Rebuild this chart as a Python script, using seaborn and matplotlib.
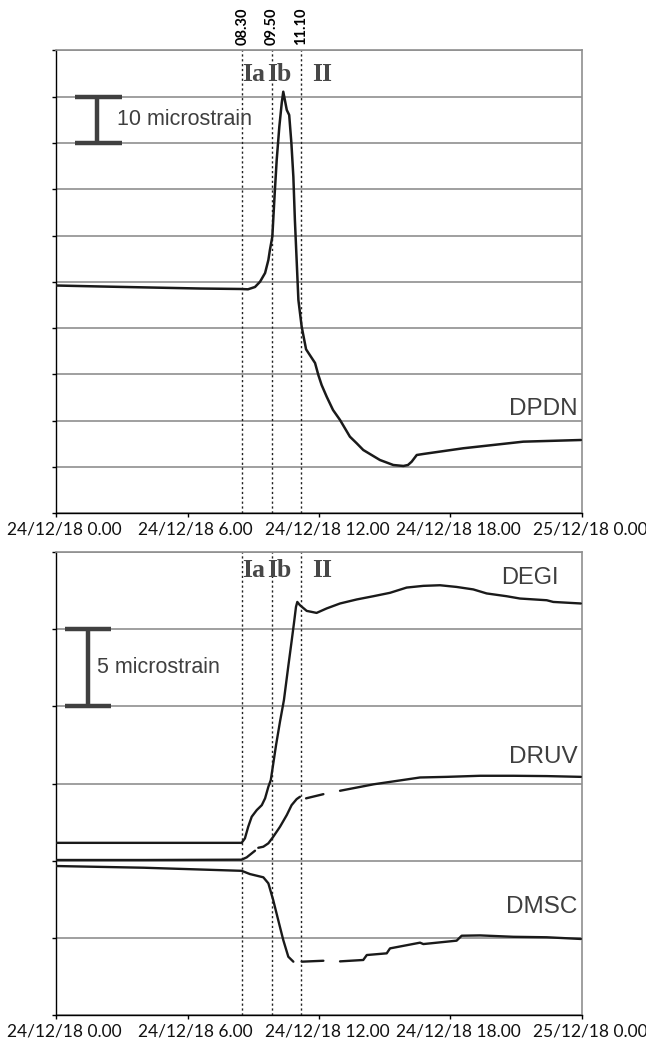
import matplotlib
matplotlib.use("Agg")
import matplotlib.pyplot as plt
import matplotlib.transforms as mtransforms
import numpy as np
import pandas as pd
import seaborn as sns

# ---------------------------------------------------------------- data
# time in hours since 24/12/18 0.00, strain in microstrain (relative)
dpdn_t = [0.00, 2.01, 4.29, 6.57, 8.40, 8.76, 9.08, 9.31, 9.54, 9.69, 9.76, 9.87,
          9.98, 10.07, 10.19, 10.30, 10.37, 10.53, 10.64, 10.74, 10.83, 10.90,
          10.98, 11.06, 11.21, 11.41, 11.82, 11.97, 12.12, 12.35, 12.64, 12.96,
          13.41, 13.72, 14.02, 14.78, 15.39, 15.85, 16.06, 16.23, 16.46,
          16.76, 18.58, 21.32, 23.95]
dpdn_v = [49.22, 49.01, 48.79, 48.57, 48.47, 48.40, 48.90, 50.04, 51.92, 54.73,
          56.89, 59.76, 69.20, 76.33, 83.52, 88.64, 91.08, 87.13, 86.05, 80.00,
          72.72, 63.37, 54.73, 46.09, 40.32, 35.44, 32.48, 29.89, 27.73, 25.21,
          22.33, 20.17, 16.57, 15.14, 13.69, 11.53, 10.45, 10.24, 10.45,
          11.17, 12.61, 12.83, 14.06, 15.49, 15.85]

degi_t = [0.00, 4.00, 8.47, 8.62, 8.77, 8.93, 9.16, 9.39, 9.54, 9.69, 9.80, 10.04,
          10.22, 10.40, 10.60, 10.75, 10.86, 10.95, 11.01, 11.13, 11.44, 11.89,
          12.35, 12.96, 13.72, 14.48, 15.24, 16.00, 16.76, 17.52, 18.28, 19.04,
          19.65, 20.56, 21.17, 22.39, 22.69, 23.95]
degi_v = [11.16, 11.16, 11.16, 11.45, 12.20, 12.85, 13.28, 13.60, 14.04, 14.79,
          15.22, 17.48, 19.00, 20.40, 22.60, 24.20, 25.40, 26.43, 26.75, 26.54,
          26.17, 26.04, 26.33, 26.65, 26.91, 27.12, 27.34, 27.68, 27.79, 27.83,
          27.72, 27.56, 27.30, 27.12, 26.97, 26.86, 26.75, 26.65]
degi_seg = [0] * len(degi_t)

druv_t = [0.00, 4.00, 8.47, 8.70, 8.93, 9.08,
          9.23, 9.46, 9.69, 9.91, 10.22, 10.53, 10.75, 10.98, 11.13,
          11.41, 12.20,
          12.96, 14.50, 16.61, 17.83, 19.35, 20.87, 22.39, 23.95]
druv_v = [10.05, 10.05, 10.07, 10.22, 10.48, 10.65,
          10.84, 10.91, 11.13, 11.55, 12.20, 12.96, 13.60, 13.99, 14.14,
          14.04, 14.31,
          14.53, 14.95, 15.39, 15.43, 15.50, 15.50, 15.48, 15.43]
druv_seg = [0] * 6 + [1] * 9 + [2] * 2 + [3] * 8

dmsc_t = [0.00, 4.00, 8.47, 8.85, 9.46, 9.69, 9.91, 10.14, 10.37, 10.60, 10.83,
          11.21, 12.20,
          12.96, 14.02, 14.18, 15.09, 15.24, 16.61, 16.76, 18.28, 18.51, 19.35,
          20.87, 22.39, 23.95]
dmsc_v = [9.66, 9.55, 9.35, 9.14, 8.93, 8.54, 7.46, 6.16, 4.87, 3.79, 3.47,
          3.47, 3.53,
          3.49, 3.58, 3.90, 4.01, 4.33, 4.70, 4.61, 4.83, 5.15, 5.17,
          5.08, 5.05, 4.94]
dmsc_seg = [0] * 11 + [1] * 2 + [2] * 13

phase_t = [8.5, 9.8333, 11.1667]
phase_labels = ["08.30", "09.50", "11.10"]
stage_t = [9.03, 10.17, 12.13]
stage_labels = ["Ia", "Ib", "II"]

tick_hours = [0, 6, 12, 18, 24]
tick_labels = ["24/12/18 0.00", "24/12/18 6.00", "24/12/18 12.00",
               "24/12/18 18.00", "25/12/18 0.00"]

# ---------------------------------------------------------------- style
sns.set_theme(style="white")
plt.rcParams["font.family"] = ["Liberation Sans", "DejaVu Sans"]

LINE = "#1a1a1a"
GRID = "#8f8f8f"
TEXT = "#3f3f3f"

fig = plt.figure(figsize=(6.46, 10.46), dpi=100)
ax1 = fig.add_axes([0.0867, 0.5092, 0.8142, 0.4426])
ax2 = fig.add_axes([0.0867, 0.02935, 0.8142, 0.4432])

label_shift = mtransforms.ScaledTranslation(8 / 100, 0, fig.dpi_scale_trans)


def style_axis(ax, ymax, ystep):
    ax.set_xlim(0, 24)
    ax.set_ylim(0, ymax)
    ax.set_yticks(np.arange(0, ymax + 0.01, ystep))
    ax.set_yticklabels([])
    ax.yaxis.grid(True, color=GRID, lw=1.2)
    ax.xaxis.grid(False)
    ax.set_axisbelow(True)
    for side in ("left", "bottom"):
        ax.spines[side].set_color("black")
        ax.spines[side].set_linewidth(1.0)
    for side in ("top", "right"):
        ax.spines[side].set_color(GRID)
        ax.spines[side].set_linewidth(1.2)
    ax.tick_params(axis="y", direction="out", length=3, width=1,
                   color="black", left=True)
    ax.tick_params(axis="x", direction="out", length=3, width=1,
                   color="black", bottom=True, pad=3)
    ax.set_xticks(tick_hours)
    ax.set_xticklabels(tick_labels, fontfamily="Lato", fontsize=12.5,
                       color="#111111")
    for lbl in ax.get_xticklabels():
        lbl.set_transform(lbl.get_transform() + label_shift)
    ax.set_xlabel("")
    ax.set_ylabel("")
    for t in phase_t:
        ax.axvline(t, color="#222222", lw=1.0, ls=(0, (1.6, 1.9)), zorder=1)


def stages(ax, y):
    for t, s in zip(stage_t, stage_labels):
        ax.text(t, y, s, ha="center", va="center", fontsize=18.5,
                fontweight="bold", color="#474747",
                fontfamily=["Liberation Serif", "DejaVu Serif"])


def scale_bar(ax, x0, x1, xm, y0, y1, text, tx, size):
    kw = dict(color="#404040", lw=3.2, solid_capstyle="butt", zorder=4)
    ax.plot([x0, x1], [y0, y0], **kw)
    ax.plot([x0, x1], [y1, y1], **kw)
    ax.plot([xm, xm], [y0, y1], **kw)
    ax.text(tx, (y0 + y1) / 2, text, ha="left", va="center", fontsize=size,
            color=TEXT)


# ---------------------------------------------------------------- top panel
top = pd.DataFrame({"t": dpdn_t, "v": dpdn_v})
sns.lineplot(data=top, x="t", y="v", sort=False, estimator=None,
             color=LINE, lw=1.8, ax=ax1, zorder=3)
style_axis(ax1, 100, 10)
stages(ax1, 94.9)
scale_bar(ax1, 0.87, 3.01, 1.88, 80, 90, "10 microstrain", 2.78, 15.5)
ax1.text(23.78, 22.5, "DPDN", ha="right", va="center", fontsize=17.5,
         color=TEXT)
for t, s in zip(phase_t, phase_labels):
    ax1.annotate(s, xy=(t, 1.0), xycoords=("data", "axes fraction"),
                 xytext=(0, 4), textcoords="offset points", rotation=90,
                 ha="center", va="bottom", fontsize=10.5, fontweight="bold",
                 fontfamily="Lato", color="black")

# ---------------------------------------------------------------- bottom panel
frames = {
    "DEGI": pd.DataFrame({"t": degi_t, "v": degi_v, "seg": degi_seg}),
    "DRUV": pd.DataFrame({"t": druv_t, "v": druv_v, "seg": druv_seg}),
    "DMSC": pd.DataFrame({"t": dmsc_t, "v": dmsc_v, "seg": dmsc_seg}),
}
for name, df in frames.items():
    sns.lineplot(data=df, x="t", y="v", units="seg", estimator=None,
                 sort=False, color=LINE, lw=1.7, ax=ax2, zorder=3,
                 legend=False)
style_axis(ax2, 30, 5)
stages(ax2, 28.77)
scale_bar(ax2, 0.41, 2.51, 1.46, 20, 25, "5 microstrain", 1.85, 15.5)
ax2.text(22.95, 28.3, "DEGI", ha="right", va="center", fontsize=17,
         color=TEXT)
ax2.text(23.78, 16.7, "DRUV", ha="right", va="center", fontsize=17.5,
         color=TEXT)
ax2.text(23.78, 7.0, "DMSC", ha="right", va="center", fontsize=17.5,
         color=TEXT)

fig.savefig("out.png", dpi=100)
